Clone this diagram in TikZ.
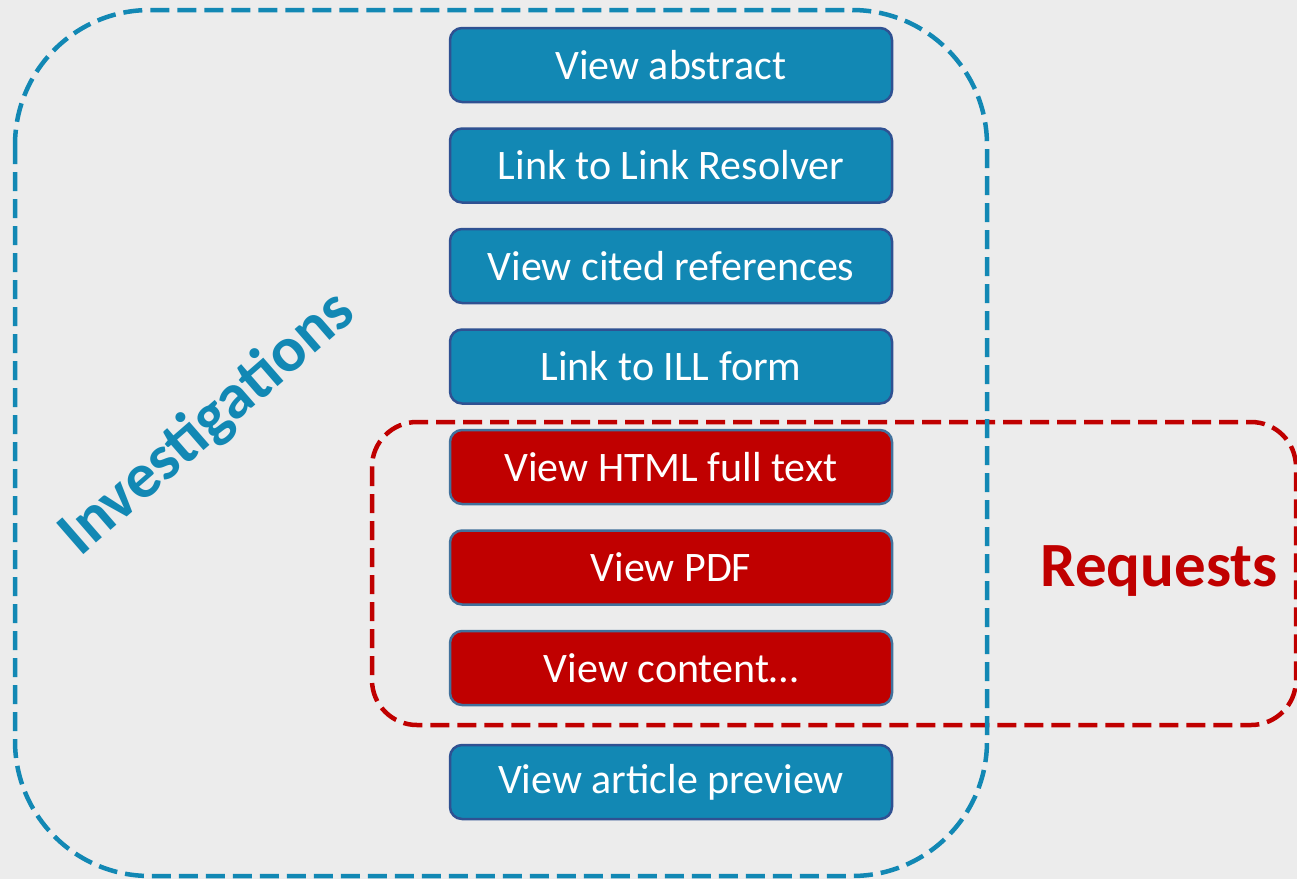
\documentclass[tikz,border=0pt]{standalone}
\usepackage{fontspec}
\setmainfont{Carlito}
\usepackage{tikz}
\usetikzlibrary{positioning}

\definecolor{bgGrey}{HTML}{ECECEC}
\definecolor{invBlue}{HTML}{1288B4}
\definecolor{invEdge}{HTML}{2F5192}
\definecolor{reqRed}{HTML}{C00000}
\definecolor{reqEdge}{HTML}{41719C}

\begin{document}
\begin{tikzpicture}[x=1pt, y=-1pt,
    invbox/.style={draw=invEdge, line width=2.5pt, fill=invBlue, rounded corners=12pt,
      minimum width=442pt, minimum height=74pt, outer sep=0pt, text=white,
      font=\fontsize{42}{50}\selectfont},
    reqbox/.style={invbox, draw=reqEdge, fill=reqRed},
    groupline/.style={line width=4.5pt, dash pattern=on 19pt off 8pt}]
    % Background and page size
    \fill[bgGrey] (0,0) rectangle (1297,879);
    \useasboundingbox (0,0) rectangle (1297,879);

    % Request group
    \draw[groupline, reqRed, rounded corners=45pt] (372,422) rectangle (1296,725);

    % Investigation group
    \draw[groupline, invBlue, rounded corners=135pt] (15,10) rectangle (987,876);

    % Actions
    \node[invbox] (abstract) at (671,65) {View abstract};
    \node[invbox, below=26.5pt of abstract] (resolver) {Link to Link Resolver};
    \node[invbox, below=26.5pt of resolver] (cited) {View cited references};
    \node[invbox, below=26.5pt of cited] (ill) {Link to ILL form};
    \node[reqbox, below=26.5pt of ill] (html) {View HTML full text};
    \node[reqbox, below=26.5pt of html] (pdf) {View PDF};
    \node[reqbox, below=26.5pt of pdf] (content) {View content\ldots};
    \node[invbox, below=40pt of content] (preview) {View article preview};

    % Group labels
    \node[invBlue, rotate=41, font=\fontsize{64}{72}\selectfont\bfseries] (invlabel) at (208,424) {Investigations};
    \node[reqRed, font=\fontsize{63}{70}\selectfont\bfseries] (reqlabel) at (1159,571) {Requests};

  \end{tikzpicture}
\end{document}
